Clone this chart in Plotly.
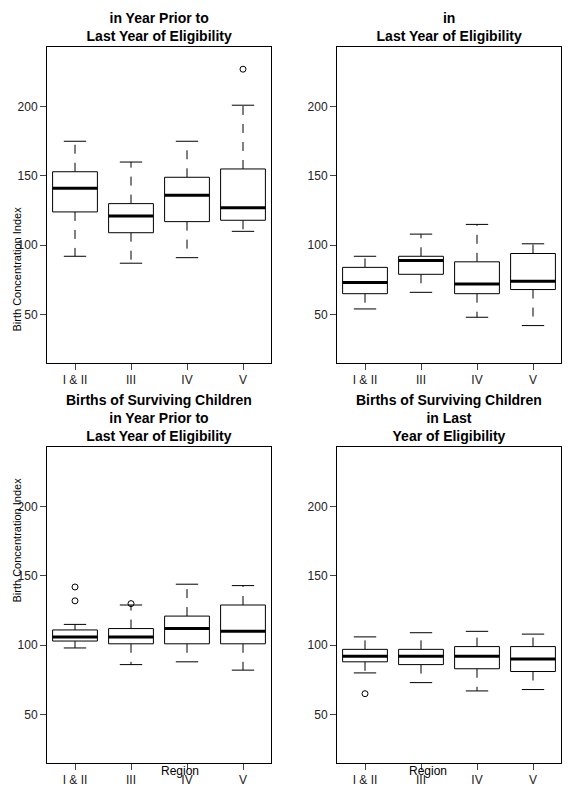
import plotly.graph_objects as go

regions = ["I & II", "III", "IV", "V"]
titles = ["Births of Dead Children<br>in Year Prior to<br>Last Year of Eligibility",
          "Births of Dead Children<br>in<br>Last Year of Eligibility",
          "Births of Surviving Children<br>in Year Prior to<br>Last Year of Eligibility",
          "Births of Surviving Children<br>in Last<br>Year of Eligibility"]
# per panel: [upper whisker, q3, median, q1, lower whisker] per region
p1 = [[175, 153, 141, 124, 92], [160, 130, 121, 109, 87], [175, 149, 136, 117, 91], [201, 155, 127, 118, 110]]
p2 = [[92, 84, 73, 65, 54], [108, 92, 89, 79, 66], [115, 88, 72, 65, 48], [101, 94, 74, 68, 42]]
p3 = [[115, 111, 106, 103, 98], [129, 112, 106, 101, 86], [144, 121, 112, 101, 88], [143, 129, 110, 101, 82]]
p4 = [[106, 97, 92, 88, 80], [109, 97, 92, 86, 73], [110, 99, 92, 83, 67], [108, 99, 90, 81, 68]]
out1 = [[], [], [], [227]]
out2 = [[], [], [], []]
out3 = [[142, 132], [130], [], []]
out4 = [[65], [], [], []]
panels = [p1, p2, p3, p4]
outs = [out1, out2, out3, out4]

OFF = 8  # page body margin
W, H = 577 - OFF, 800 - OFF
def px(v): return (v - OFF) / W
def py(v): return 1 - (v - OFF) / H
xd = [[px(47), px(271)], [px(337), px(561)]]
yd = [[py(363), py(47)], [py(763), py(447)]]

fig = go.Figure()
annotations = []
for k in range(4):
    r, c = divmod(k, 2)
    ax = "" if k == 0 else str(k+1)
    xa, ya = "x"+ax, "y"+ax
    bx, by, wx, wy, cx, cy, mx, my, ox, oy = [], [], [], [], [], [], [], [], [], []
    for i, (hi, q3, md, q1, lo) in enumerate(panels[k]):
        x = i + 1
        bx += [x-.4, x+.4, x+.4, x-.4, x-.4, None]; by += [q1, q1, q3, q3, q1, None]
        wx += [x, x, None, x, x, None]; wy += [q3, hi, None, q1, lo, None]
        cx += [x-.2, x+.2, None, x-.2, x+.2, None]; cy += [hi, hi, None, lo, lo, None]
        mx += [x-.4, x+.4, None]; my += [md, md, None]
        for o in outs[k][i]:
            ox.append(x); oy.append(o)
    line = dict(color="black", width=1)
    fig.add_trace(go.Scatter(x=wx, y=wy, mode="lines", line=dict(color="black", width=1, dash="dash"), xaxis=xa, yaxis=ya))
    fig.add_trace(go.Scatter(x=cx, y=cy, mode="lines", line=line, xaxis=xa, yaxis=ya))
    fig.add_trace(go.Scatter(x=bx, y=by, mode="lines", line=line, fill="toself", fillcolor="white", xaxis=xa, yaxis=ya))
    fig.add_trace(go.Scatter(x=mx, y=my, mode="lines", line=dict(color="black", width=3), xaxis=xa, yaxis=ya))
    fig.add_trace(go.Scatter(x=ox, y=oy, mode="markers", marker=dict(symbol="circle-open", color="black", size=6), xaxis=xa, yaxis=ya))
    common = dict(showline=True, mirror=True, linecolor="black", linewidth=1, ticks="outside",
                  ticklen=6, showgrid=False, zeroline=False, tickfont=dict(size=12, color="#222"))
    fig.update_layout(**{
        "xaxis"+ax: dict(domain=xd[c], range=[0.5, 4.5], tickvals=[1, 2, 3, 4], ticktext=regions,
                         anchor=ya, **common),
        "yaxis"+ax: dict(domain=yd[r], range=[15, 243], tickvals=[50, 100, 150, 200],
                         anchor=xa, **common)})
    annotations.append(dict(text="<b>"+titles[k]+"</b>", x=sum(xd[c])/2, y=yd[r][1], xref="paper", yref="paper",
                            xanchor="center", yanchor="bottom", yshift=1, showarrow=False,
                            font=dict(size=14, color="black")))
for r in range(2):
    annotations.append(dict(text="Birth Concentration Index", textangle=-90, x=0, xanchor="left", y=sum(yd[r])/2,
                            xref="paper", yref="paper", showarrow=False, font=dict(size=11, color="black")))
for c in range(2):
    annotations.append(dict(text="Region", x=sum(xd[c])/2, y=py(780), xref="paper", yref="paper",
                            showarrow=False, font=dict(size=12, color="black")))
fig.update_layout(width=W, height=H, margin=dict(l=0, r=0, t=0, b=0), showlegend=False,
                  plot_bgcolor="white", paper_bgcolor="white",
                  font=dict(family="Liberation Sans, Arial, sans-serif"), annotations=annotations)
fig.write_html("out.html")
